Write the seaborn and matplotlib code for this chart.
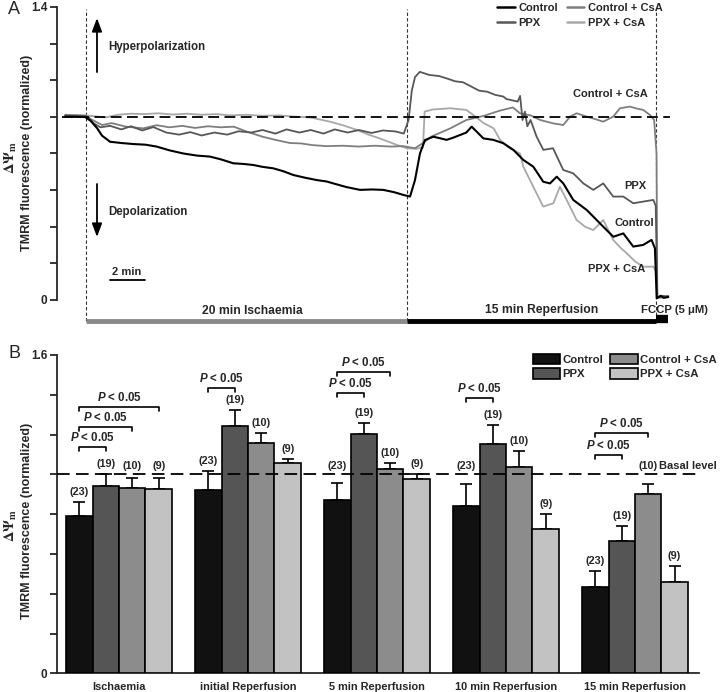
import matplotlib
matplotlib.use("Agg")
import matplotlib.pyplot as plt
from matplotlib.lines import Line2D
from matplotlib.patches import Patch
import numpy as np
import pandas as pd
import seaborn as sns

sns.set_style("ticks")
plt.rcParams["font.family"] = ["Liberation Sans", "DejaVu Sans"]
plt.rcParams["font.weight"] = "bold"
plt.rcParams["mathtext.fontset"] = "custom"
plt.rcParams["mathtext.it"] = "Liberation Sans:italic:bold"
plt.rcParams["mathtext.rm"] = "Liberation Sans:bold"

# ---- panel A: traces (time in min from start of ischaemia, normalized TMRM) ----
GROUPS = ["Control", "PPX", "Control + CsA", "PPX + CsA"]
LINE_COLORS = ["#000000", "#575757", "#7e7e7e", "#a8a8a8"]

CONTROL = [(-1.3, 0.876), (-0.05, 0.874), (0.3, 0.855), (0.7, 0.82), (1.0, 0.785), (1.5, 0.756),
           (2.2, 0.75), (2.95, 0.745), (3.7, 0.742), (4.4, 0.733), (5.2, 0.715), (6.06, 0.70),
           (6.9, 0.69), (7.73, 0.685), (8.4, 0.672), (9.18, 0.653), (9.8, 0.65), (10.42, 0.645),
           (11.0, 0.636), (11.67, 0.629), (12.3, 0.615), (12.92, 0.597), (13.6, 0.585), (14.37, 0.573),
           (15.0, 0.566), (15.41, 0.557), (16.2, 0.54), (17.07, 0.526), (17.8, 0.528), (18.52, 0.526),
           (19.2, 0.515), (19.77, 0.502), (20.19, 0.494), (20.5, 0.573), (20.81, 0.70), (21.12, 0.764),
           (21.64, 0.78), (22.1, 0.772), (22.47, 0.765), (22.9, 0.776), (23.3, 0.788), (23.7, 0.80),
           (24.03, 0.828), (24.4, 0.80), (24.76, 0.772), (25.38, 0.765), (26.0, 0.749), (26.63, 0.717),
           (27.25, 0.669), (27.87, 0.637), (28.49, 0.565), (28.91, 0.557), (29.33, 0.589), (29.74, 0.557),
           (30.36, 0.478), (31.2, 0.43), (31.82, 0.382), (32.23, 0.35), (32.86, 0.302), (33.48, 0.318),
           (34.1, 0.255), (34.72, 0.263), (35.24, 0.287), (35.45, 0.247), (35.56, 0.008), (35.8, 0.02),
           (36.0, 0.01), (36.28, 0.015)]

PPX = [(-1.3, 0.882), (-0.05, 0.88), (0.2, 0.87), (0.45, 0.845), (0.9, 0.825), (1.5, 0.832),
       (2.2, 0.815), (2.8, 0.83), (3.5, 0.81), (4.2, 0.826), (5.0, 0.80), (5.8, 0.79), (6.5, 0.802),
       (7.2, 0.786), (8.0, 0.80), (8.8, 0.79), (9.5, 0.806), (10.3, 0.80), (11.0, 0.812), (11.8, 0.795),
       (12.5, 0.815), (13.3, 0.80), (14.0, 0.812), (14.8, 0.795), (15.5, 0.815), (16.3, 0.80),
       (17.0, 0.812), (17.8, 0.798), (18.5, 0.81), (19.3, 0.805), (19.8, 0.795), (20.1, 0.86),
       (20.3, 1.0), (20.5, 1.065), (20.8, 1.09), (21.4, 1.075), (22.0, 1.07), (22.5, 1.058),
       (23.0, 1.045), (23.5, 1.04), (24.0, 1.02), (24.5, 1.0), (25.0, 0.995), (25.5, 0.98),
       (26.0, 0.972), (26.2, 0.96), (26.5, 0.955), (26.9, 0.948), (27.05, 0.975), (27.2, 0.86),
       (27.35, 0.9), (27.5, 0.83), (27.7, 0.86), (28.08, 0.78), (28.5, 0.717), (29.1, 0.725),
       (29.74, 0.621), (30.36, 0.605), (30.99, 0.557), (31.61, 0.526), (32.23, 0.557), (32.85, 0.494),
       (33.48, 0.494), (34.1, 0.462), (34.72, 0.47), (35.35, 0.478), (35.5, 0.45), (35.6, 0.01),
       (35.9, 0.02), (36.28, 0.015)]

CONTROL_CSA = [(-1.3, 0.878), (-0.05, 0.876), (0.4, 0.86), (1.0, 0.836), (1.6, 0.845), (2.5, 0.828),
               (3.57, 0.82), (4.4, 0.835), (5.2, 0.825), (6.0, 0.832), (6.8, 0.822), (7.6, 0.83),
               (8.4, 0.825), (9.2, 0.828), (10.0, 0.805), (11.0, 0.78), (11.8, 0.765), (12.7, 0.75),
               (13.4, 0.748), (14.1, 0.74), (15.0, 0.735), (16.0, 0.737), (17.0, 0.733), (18.0, 0.737),
               (19.0, 0.733), (19.75, 0.735), (20.5, 0.725), (21.0, 0.75), (21.5, 0.78), (22.1, 0.80),
               (22.7, 0.82), (23.7, 0.86), (24.8, 0.88), (25.8, 0.905), (26.6, 0.92), (27.04, 0.892),
               (27.7, 0.882), (28.3, 0.86), (29.1, 0.844), (29.74, 0.836), (30.16, 0.876), (30.57, 0.892),
               (31.2, 0.876), (31.7, 0.865), (32.23, 0.852), (32.85, 0.876), (33.27, 0.916), (33.89, 0.924),
               (34.3, 0.915), (34.72, 0.908), (35.14, 0.884), (35.4, 0.86), (35.55, 0.70), (35.6, 0.01),
               (35.9, 0.015), (36.28, 0.02)]

PPX_CSA = [(-1.3, 0.885), (-0.05, 0.882), (0.5, 0.878), (1.2, 0.872), (2.0, 0.885), (2.8, 0.89),
           (3.6, 0.888), (4.5, 0.892), (5.4, 0.886), (6.3, 0.89), (7.2, 0.885), (8.1, 0.888),
           (9.0, 0.882), (10.0, 0.885), (11.0, 0.88), (12.0, 0.882), (13.0, 0.876), (14.0, 0.872),
           (15.2, 0.852), (16.0, 0.835), (16.9, 0.812), (17.6, 0.79), (18.3, 0.772), (19.4, 0.74),
           (20.0, 0.725), (20.6, 0.722), (21.0, 0.73), (21.1, 0.90), (21.6, 0.91), (22.7, 0.916),
           (23.7, 0.908), (24.2, 0.88), (24.76, 0.846), (25.4, 0.82), (25.8, 0.765), (26.4, 0.725),
           (27.04, 0.70), (27.25, 0.637), (27.87, 0.541), (28.49, 0.446), (29.12, 0.462), (29.53, 0.541),
           (29.95, 0.478), (30.57, 0.382), (31.1, 0.35), (31.61, 0.334), (32.23, 0.382), (32.85, 0.287),
           (33.3, 0.25), (33.69, 0.223), (34.2, 0.185), (34.72, 0.159), (35.35, 0.159), (35.5, 0.14),
           (35.6, 0.01), (35.9, 0.01), (36.28, 0.012)]

BASAL_A = 0.875
ISCH_START, REP_START, FCCP_START, TRACE_END = 0.0, 20.0, 35.5, 36.26

# ---- panel B: bar data ----
PHASES = ["Ischaemia", "initial Reperfusion", "5 min Reperfusion", "10 min Reperfusion", "15 min Reperfusion"]
BAR_COLORS = ["#111111", "#555555", "#8c8c8c", "#c2c2c2"]
MEAN_CONTROL = [0.792, 0.92, 0.871, 0.841, 0.436]
MEAN_PPX = [0.943, 1.243, 1.203, 1.153, 0.664]
MEAN_CONTROL_CSA = [0.930, 1.156, 1.025, 1.039, 0.90]
MEAN_PPX_CSA = [0.928, 1.059, 0.977, 0.727, 0.457]
SEM_CONTROL = [0.071, 0.099, 0.084, 0.109, 0.08]
SEM_PPX = [0.059, 0.081, 0.057, 0.097, 0.078]
SEM_CONTROL_CSA = [0.05, 0.051, 0.034, 0.08, 0.052]
SEM_PPX_CSA = [0.055, 0.02, 0.023, 0.074, 0.084]
N_CELLS = [23, 19, 10, 9]
BASAL_B = 1.0
# (phase index, group a, group b, bracket height)
BRACKETS = [(0, 0, 1, 1.139), (0, 0, 2, 1.240), (0, 0, 3, 1.340), (1, 0, 1, 1.433),
            (2, 0, 1, 1.408), (2, 0, 2, 1.516), (3, 0, 1, 1.383), (4, 0, 1, 1.098), (4, 0, 2, 1.21)]

W, H = 720, 692
fig = plt.figure(figsize=(W / 100, H / 100), dpi=100)


def px_axes(l, t, r, b):
    return fig.add_axes([l / W, 1 - b / H, (r - l) / W, (b - t) / H])


# ================= panel A =================
axA = px_axes(57, 3, 705, 328)
traces = [CONTROL, PPX, CONTROL_CSA, PPX_CSA]
for i in [3, 2, 1, 0]:
    df = pd.DataFrame(traces[i], columns=["t", "v"])
    sns.lineplot(data=df, x="t", y="v", ax=axA, color=LINE_COLORS[i],
                 lw=1.5 if i == 0 else 1.3, estimator=None, sort=False, legend=False, zorder=3 + (3 - i))

axA.set_xlim(-1.807, 38.57)
axA.set_ylim(-0.134, 1.419)
axA.plot([-1.5, 36.4], [BASAL_A, BASAL_A], color="black", lw=1.3, dashes=(6, 3), zorder=8)
for t in [ISCH_START, REP_START, FCCP_START]:
    axA.plot([t, t], [-0.10, 1.39], color="#333333", lw=0.8, dashes=(3, 2), zorder=2)

axA.plot([ISCH_START, REP_START], [-0.10, -0.10], color="#8a8a8a", lw=3.5, solid_capstyle="butt")
axA.plot([REP_START, FCCP_START], [-0.10, -0.10], color="black", lw=3.5, solid_capstyle="butt")
axA.plot([FCCP_START, TRACE_END], [-0.092, -0.092], color="black", lw=6, solid_capstyle="butt")

axA.text(10.34, -0.055, "20 min Ischaemia", ha="center", va="center", fontsize=8.7)
axA.text(28.41, -0.048, "15 min Reperfusion", ha="center", va="center", fontsize=8.7)
axA.text(36.64, -0.048, "FCCP (5 μM)", ha="center", va="center", fontsize=8.2)

axA.text(32.65, 0.984, "Control + CsA", ha="center", va="center", fontsize=8)
axA.text(34.2, 0.545, "PPX", ha="center", va="center", fontsize=8)
axA.text(34.14, 0.368, "Control", ha="center", va="center", fontsize=8)
axA.text(33.08, 0.148, "PPX + CsA", ha="center", va="center", fontsize=8)

arrow = dict(arrowstyle="-|>,head_width=0.3,head_length=0.8", color="black", lw=1.3,
             shrinkA=0, shrinkB=0, mutation_scale=10)
axA.annotate("", xy=(0.685, 1.347), xytext=(0.685, 1.089), arrowprops=arrow)
axA.annotate("", xy=(0.685, 0.301), xytext=(0.685, 0.554), arrowprops=arrow)
axA.text(1.37, 1.209, "Hyperpolarization", ha="left", va="center", fontsize=8.3)
axA.text(1.37, 0.42, "Depolarization", ha="left", va="center", fontsize=8.3)
axA.plot([1.5, 3.68], [0.0956, 0.0956], color="black", lw=1.3)
axA.text(2.55, 0.134, "2 min", ha="center", va="center", fontsize=8)

axA.set_yticks(np.linspace(0, 1.4, 9))
axA.set_yticklabels(["0"] + [""] * 7 + ["1.4"])
axA.set_xticks([])
axA.set_xlabel("")
axA.set_ylabel("")
for s in ["top", "right", "bottom"]:
    axA.spines[s].set_visible(False)
axA.spines["left"].set_bounds(0, 1.4)
axA.spines["left"].set_linewidth(1.3)
axA.tick_params(axis="y", direction="out", length=5, width=1.3, labelsize=8.5, pad=2)

handlesA = [Line2D([], [], color=c, lw=1.8) for c in LINE_COLORS]
axA.legend(handlesA, GROUPS, ncol=2, loc="upper left", bbox_to_anchor=((497 - 57) / 648, 1.0),
           frameon=False, fontsize=8, handlelength=1.6, handletextpad=0.3, columnspacing=0.8,
           labelspacing=0.45, borderpad=0, borderaxespad=0)

# ================= panel B =================
axB = px_axes(57, 345, 705, 673.3)
means = [MEAN_CONTROL, MEAN_PPX, MEAN_CONTROL_CSA, MEAN_PPX_CSA]
sems = [SEM_CONTROL, SEM_PPX, SEM_CONTROL_CSA, SEM_PPX_CSA]
dfB = pd.DataFrame([(PHASES[p], GROUPS[g], means[g][p]) for g in range(4) for p in range(5)],
                   columns=["phase", "group", "value"])
sns.barplot(data=dfB, x="phase", y="value", hue="group", order=PHASES, hue_order=GROUPS,
            palette=BAR_COLORS, saturation=1, width=0.82, edgecolor="black", linewidth=1.2,
            errorbar=None, legend=False, ax=axB, zorder=3)

bars = sorted(axB.patches, key=lambda p: p.get_x())
centers = [[0.0] * 4 for _ in range(5)]
for i, p in enumerate(bars):
    ph, g = i // 4, i % 4
    xc = p.get_x() + p.get_width() / 2
    centers[ph][g] = xc
    top = p.get_height()
    err = sems[g][ph]
    axB.errorbar(xc, top, yerr=[[0], [err]], fmt="none", ecolor="black", elinewidth=1.2,
                 capsize=4, capthick=1.2, zorder=2)
    y_lab = top + err + 0.025
    if top + err < BASAL_B and y_lab + 0.07 > BASAL_B:
        y_lab = BASAL_B + 0.018  # keep the n label clear of the basal line
    axB.text(xc, y_lab, f"({N_CELLS[g]})", ha="center", va="bottom", fontsize=7.8)

for ph, a, b, y in BRACKETS:
    xa, xb = centers[ph][a], centers[ph][b]
    axB.plot([xa, xa, xb, xb], [y - 0.02, y, y, y - 0.02], color="black", lw=1.2)
    axB.text((xa + xb) / 2, y + 0.014, r"$P$ < 0.05", ha="center", va="bottom", fontsize=8.3)

axB.axhline(BASAL_B, xmin=0, xmax=(700 - 57) / 648, color="black", lw=1.3, dashes=(7, 3.5), zorder=5)
axB.text((717 - 119) / 129, 1.042, "Basal level", ha="right", va="center", fontsize=8)

axB.set_xlim(-0.481, 4.543)
axB.set_ylim(0, 1.650)
axB.set_yticks(np.linspace(0, 1.6, 9))
axB.set_yticklabels(["0"] + [""] * 7 + ["1.6"])
axB.set_xlabel("")
axB.set_ylabel("")
for s in ["top", "right"]:
    axB.spines[s].set_visible(False)
axB.spines["left"].set_bounds(0, 1.6)
axB.spines["bottom"].set_bounds(-0.481, 4.50)
axB.spines["left"].set_linewidth(1.3)
axB.spines["bottom"].set_linewidth(1.3)
axB.tick_params(axis="y", direction="out", length=5, width=1.3, labelsize=8.5, pad=2)
axB.tick_params(axis="x", length=0, labelsize=7.9, pad=6)

handlesB = [Patch(facecolor=c, edgecolor="black", lw=1.2) for c in BAR_COLORS]
axB.legend(handlesB, GROUPS, ncol=2, loc="upper left",
           bbox_to_anchor=((533 - 57) / 648, (673.3 - 354) / 328.3),
           frameon=False, fontsize=8.2, handlelength=2.4, handleheight=1.0, handletextpad=0.2,
           columnspacing=0.6, labelspacing=0.3, borderpad=0, borderaxespad=0)

# ---- shared text ----
fig.text(14 / W, 1 - 9 / H, "A", ha="center", va="center", fontsize=13, fontweight="normal")
fig.text(14 / W, 1 - 353 / H, "B", ha="center", va="center", fontsize=13, fontweight="normal")
for yc, yd in [(152.7, 157), (521, 525)]:
    fig.text(27 / W, 1 - yc / H, "TMRM fluorescence (normalized)", rotation=90,
             ha="center", va="center", fontsize=9)
    fig.text(11 / W, 1 - yd / H, r"$\Delta\Psi_{\rm m}$", rotation=90, ha="center", va="center",
             fontsize=10.5, math_fontfamily="stix", fontweight="normal")

fig.savefig("out.png", dpi=100, facecolor="white")
